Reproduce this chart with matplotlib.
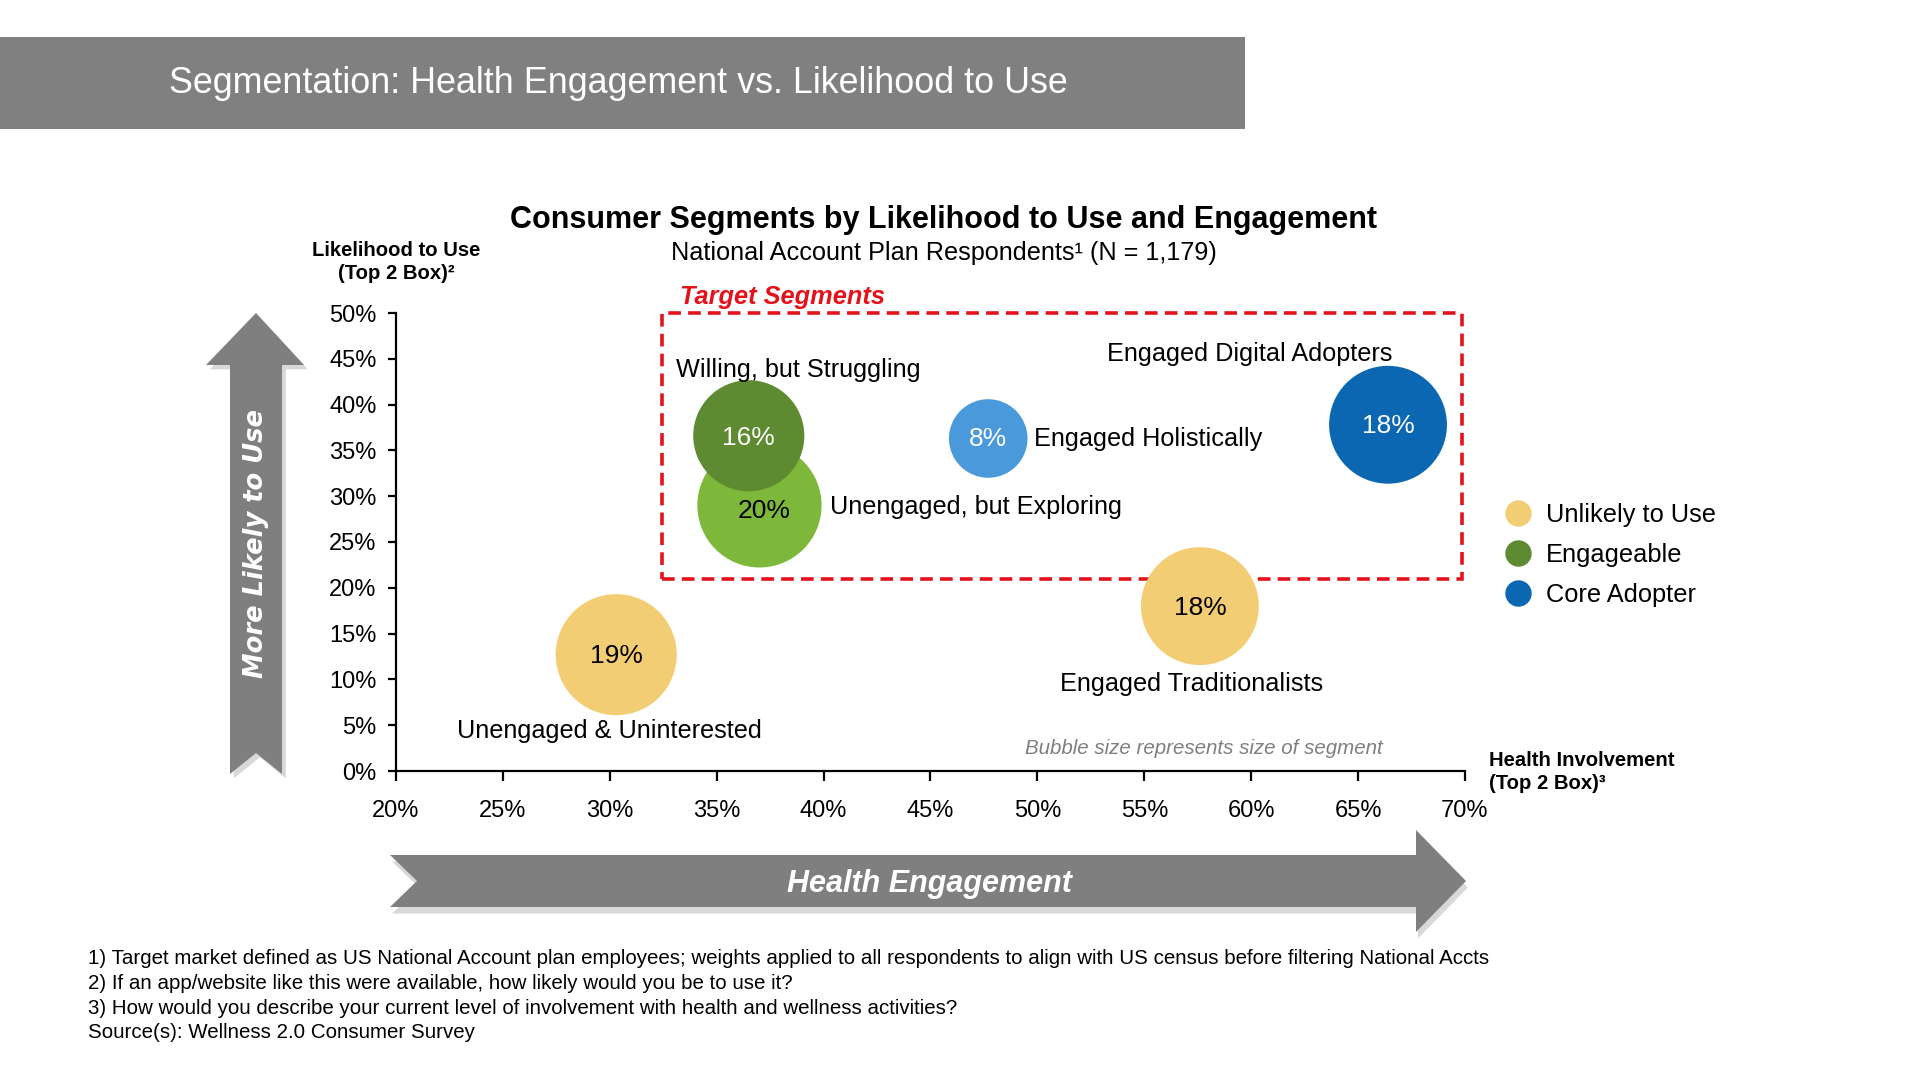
import matplotlib
matplotlib.use("Agg")
import matplotlib.pyplot as plt
from matplotlib.patches import Polygon, Rectangle
from matplotlib.lines import Line2D

plt.rcParams['font.family'] = ['Liberation Sans', 'DejaVu Sans']

# segment data: x = health involvement (%), y = likelihood to use (%), size = share of respondents (%)
segments = ["Unengaged & Uninterested", "Engaged Traditionalists", "Unengaged, but Exploring",
            "Willing, but Struggling", "Engaged Holistically", "Engaged Digital Adopters"]
engagement = [30.3, 57.6, 37.0, 36.5, 47.7, 66.4]
likelihood = [12.7, 18.0, 29.0, 36.6, 36.3, 37.8]
seg_size = [19, 18, 20, 16, 8, 18]
seg_group = ["Unlikely to Use", "Unlikely to Use", "Engageable", "Engageable", "Core Adopter", "Core Adopter"]

groups = ["Unlikely to Use", "Engageable", "Core Adopter"]
x_ticks = [20, 25, 30, 35, 40, 45, 50, 55, 60, 65, 70]
y_ticks = [0, 5, 10, 15, 20, 25, 30, 35, 40, 45, 50]

footnotes = [
    "1) Target market defined as US National Account plan employees; weights applied to all respondents to align with US census before filtering National Accts",
    "2) If an app/website like this were available, how likely would you be to use it?",
    "3) How would you describe your current level of involvement with health and wellness activities?",
    "Source(s): Wellness 2.0 Consumer Survey",
]

# styling
bubble_colors = ["#F2CD74", "#F2CD74", "#7DB83A", "#5E8A31", "#4A9ADB", "#0B67B1"]
pct_colors = ["black", "black", "black", "white", "white", "white"]
legend_colors = {"Unlikely to Use": "#F2CD74", "Engageable": "#5E8A31", "Core Adopter": "#0B67B1"}
# (x, y, ha) for segment name labels, in data units
name_pos = [(30.0, 4.4, "center"), (57.2, 9.5, "center"), (40.3, 28.8, "left"),
            (33.1, 43.8, "left"), (49.85, 36.2, "left"), (59.95, 45.5, "center")]
pct_offset = [(0, -0.1), (0, -0.2), (0.2, -0.6), (0, -0.2), (0, -0.1), (0, -0.1)]
GRAY = "#7F7F7F"
W, H = 1920, 1080


def fx(px):
    return px / W


def fy(py):
    return 1 - py / H


fig = plt.figure(figsize=(19.2, 10.8), dpi=100)

# header band
fig.patches.append(Rectangle((0, fy(129)), fx(1245), (129 - 37) / H, transform=fig.transFigure,
                             facecolor="#808080", edgecolor="none", zorder=0))
fig.text(fx(169), fy(84), "Segmentation: Health Engagement vs. Likelihood to Use",
         color="white", fontsize=25.8, va="center", ha="left")

# titles
fig.text(fx(944), fy(220), "Consumer Segments by Likelihood to Use and Engagement",
         fontsize=22, fontweight="bold", ha="center", va="center")
fig.text(fx(944), fy(253), "National Account Plan Respondents\u00b9 (N = 1,179)",
         fontsize=18.2, ha="center", va="center")

ax = fig.add_axes([fx(396), fy(771), (1465 - 396) / W, (771 - 313) / H])
ax.set_xlim(20, 70)
ax.set_ylim(0, 50)
for side in ["top", "right"]:
    ax.spines[side].set_visible(False)
for side in ["left", "bottom"]:
    ax.spines[side].set_linewidth(1.6)
ax.set_xticks(x_ticks)
ax.set_yticks(y_ticks)
ax.set_xticklabels([f"{v}%" for v in x_ticks])
ax.set_yticklabels([f"{v}%" for v in y_ticks])
ax.tick_params(axis="x", length=7, width=1.6, labelsize=17, pad=14)
ax.tick_params(axis="y", length=6, width=1.6, labelsize=17, pad=8)

# bubbles: area proportional to segment size
ax.scatter(engagement, likelihood, s=[v * 400 for v in seg_size], c=bubble_colors,
           edgecolors="none", zorder=3, clip_on=False)
for i, seg in enumerate(segments):
    dx, dy = pct_offset[i]
    ax.text(engagement[i] + dx, likelihood[i] + dy, f"{seg_size[i]}%", color=pct_colors[i],
            fontsize=19, ha="center", va="center", zorder=4)
    nx, ny, ha = name_pos[i]
    ax.text(nx, ny, seg, fontsize=18.2, ha=ha, va="center", zorder=4)

# target segments box
ax.add_patch(Rectangle((32.45, 21.0), 69.85 - 32.45, 50 - 21.0, fill=False, edgecolor="#E3121B",
                       linewidth=2.6, linestyle=(0, (3.5, 2)), clip_on=False, zorder=2))
ax.text(33.3, 51.8, "Target Segments", color="#E3121B", fontsize=18.3, fontweight="bold",
        fontstyle="italic", ha="left", va="center")

ax.text(57.8, 2.5, "Bubble size represents size of segment", color="#7F7F7F", fontsize=14.8,
        fontstyle="italic", ha="center", va="center")

# axis captions
fig.text(fx(396), fy(262), "Likelihood to Use\n(Top 2 Box)\u00b2", fontsize=14.6, fontweight="bold",
         ha="center", va="center", linespacing=1.3)
fig.text(fx(1489), fy(772), "Health Involvement\n(Top 2 Box)\u00b3", fontsize=14.6, fontweight="bold",
         ha="left", va="center", linespacing=1.3)

# legend
handles = [Line2D([], [], marker="o", linestyle="none", markersize=19, markerfacecolor=legend_colors[g],
                  markeredgecolor="none") for g in groups]
fig.legend(handles, groups, loc="upper left", bbox_to_anchor=(fx(1493), fy(493)), frameon=False,
           fontsize=18.3, handletextpad=0.5, labelspacing=0.62, borderaxespad=0, handlelength=1.2)

# vertical arrow
up = [(230, 774), (256, 753), (282, 774), (282, 365), (304, 365), (256, 313), (206, 365), (230, 365)]
fig.patches.append(Polygon([(fx(x) + 0.002, fy(y) - 0.004) for x, y in up], closed=True,
                           transform=fig.transFigure, facecolor="#D8D8D8", edgecolor="none", zorder=0))
fig.patches.append(Polygon([(fx(x), fy(y)) for x, y in up], closed=True, transform=fig.transFigure,
                           facecolor=GRAY, edgecolor="none", zorder=1))
fig.text(fx(256), fy(543), "More Likely to Use", rotation=90, color="white", fontsize=18.5,
         fontweight="bold", fontstyle="italic", family="DejaVu Sans", ha="center", va="center")

# horizontal arrow
right = [(390, 855), (1416, 855), (1416, 830), (1466, 881), (1416, 932), (1416, 907), (390, 907), (417, 881)]
fig.patches.append(Polygon([(fx(x) + 0.001, fy(y) - 0.006) for x, y in right], closed=True,
                           transform=fig.transFigure, facecolor="#D8D8D8", edgecolor="none", zorder=0))
fig.patches.append(Polygon([(fx(x), fy(y)) for x, y in right], closed=True, transform=fig.transFigure,
                           facecolor=GRAY, edgecolor="none", zorder=1))
fig.text(fx(929), fy(884), "Health Engagement", color="white", fontsize=22, fontweight="bold",
         fontstyle="italic", ha="center", va="center")

# footnotes
for i, line in enumerate(footnotes):
    fig.text(fx(88), fy(959 + i * 24.6), line, fontsize=14.8, ha="left", va="center")

fig.savefig("out.png", dpi=100)
